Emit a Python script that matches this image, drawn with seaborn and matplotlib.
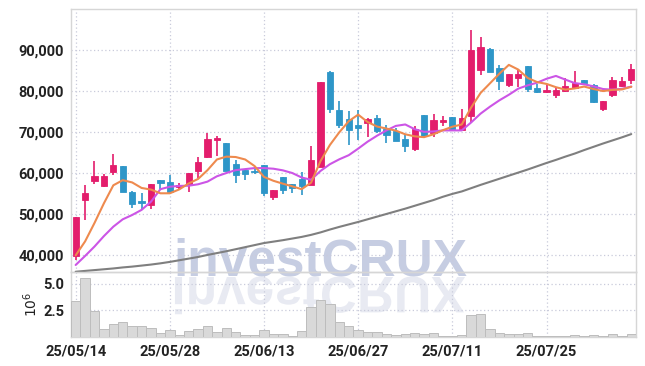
import matplotlib
matplotlib.use("Agg")
import matplotlib.pyplot as plt
import seaborn as sns
from matplotlib import font_manager
from matplotlib.font_manager import FontProperties
from matplotlib.textpath import TextPath
from matplotlib.patches import PathPatch
from matplotlib.transforms import Affine2D
from matplotlib.ticker import FuncFormatter

# trading days shown on the chart
dates = [
    "25/05/14", "25/05/15", "25/05/16", "25/05/19", "25/05/20", "25/05/21", "25/05/22", "25/05/23", "25/05/26", "25/05/27",
    "25/05/28", "25/05/29", "25/05/30", "25/06/02", "25/06/04", "25/06/05", "25/06/09", "25/06/10", "25/06/11", "25/06/12",
    "25/06/13", "25/06/16", "25/06/17", "25/06/18", "25/06/19", "25/06/20", "25/06/23", "25/06/24", "25/06/25", "25/06/26",
    "25/06/27", "25/06/30", "25/07/01", "25/07/02", "25/07/03", "25/07/04", "25/07/07", "25/07/08", "25/07/09", "25/07/10",
    "25/07/11", "25/07/14", "25/07/15", "25/07/16", "25/07/17", "25/07/18", "25/07/21", "25/07/22", "25/07/23", "25/07/24",
    "25/07/25", "25/07/28", "25/07/29", "25/07/30", "25/07/31", "25/08/01", "25/08/04", "25/08/05", "25/08/06", "25/08/07",
]

opens = [39800, 53400, 58050, 56850, 60250, 61700, 55350, 53150, 52100, 58300,
         57900, 56500, 57300, 60550, 63850, 68150, 67300, 62200, 60750, 60500,
         61950, 54050, 59000, 57300, 58550, 57150, 61550, 84550, 75300, 73100,
         71700, 72250, 73400, 70650, 70300, 68300, 65850, 74050, 69700, 72500,
         73600, 70500, 73900, 85100, 90250, 85750, 81550, 83250, 86100, 80750,
         79750, 79100, 80100, 80800, 82700, 81450, 75600, 79100, 81300, 82700]
highs = [49300, 57100, 63000, 59700, 64550, 61700, 55500, 55050, 57300, 58300,
         59500, 57650, 60100, 64000, 69700, 69000, 67300, 63150, 60750, 61400,
         62000, 55850, 59100, 57300, 60300, 66650, 82100, 84950, 77650, 75200,
         75350, 73350, 74150, 71700, 70900, 69250, 71450, 74050, 74300, 73900,
         73600, 75550, 94900, 93100, 90400, 86350, 84150, 85100, 86100, 81850,
         81450, 81050, 83250, 84950, 82700, 81850, 77550, 83500, 83500, 86500]
lows = [38800, 48500, 57250, 56500, 59500, 55450, 51400, 51000, 51150, 56000,
        55300, 55850, 55450, 58700, 63600, 64150, 60500, 57650, 58300, 59750,
        54400, 53400, 54900, 55050, 54650, 57150, 61500, 74550, 70900, 66850,
        68050, 68700, 69850, 67250, 67900, 65200, 65350, 68700, 68850, 71450,
        70250, 70500, 72250, 83900, 84700, 80250, 81050, 81050, 79750, 79600,
        79450, 78200, 79850, 80400, 81450, 77050, 75200, 78450, 81050, 81850]
closes = [49300, 55200, 59350, 59250, 61950, 55450, 52500, 52600, 57300, 57500,
          55450, 57050, 60050, 62700, 68200, 68550, 60500, 59450, 59850, 60250,
          55200, 55850, 55950, 56400, 56900, 63150, 82100, 75700, 71800, 70550,
          71050, 73100, 70300, 69350, 67900, 66650, 70650, 69100, 72950, 72950,
          70800, 73350, 90000, 90650, 84700, 82500, 84150, 84150, 80550, 79750,
          80250, 80150, 81150, 82050, 81950, 77300, 77550, 82700, 82450, 85300]

# moving averages as drawn (short / mid / long)
ma_short = [39900, 43300, 47800, 52600, 57000, 58250, 57700, 56350, 55950, 55050,
            55050, 56000, 57450, 58550, 60700, 63300, 64000, 63900, 63300, 61700,
            59050, 58100, 57400, 56750, 56050, 57650, 62900, 66850, 69950, 72650,
            74250, 72450, 71350, 70850, 70350, 69450, 68950, 68750, 69450, 70450,
            71300, 71850, 76000, 79550, 81900, 84250, 86400, 85250, 83200, 82200,
            81750, 80950, 80350, 80650, 81100, 80500, 80000, 80300, 80400, 81050]
ma_mid = [37550, 39750, 42050, 44600, 46900, 48700, 49750, 51000, 53000, 56050,
          56650, 56850, 56900, 57250, 57900, 59200, 60000, 60700, 60950, 61200,
          61200, 61050, 60650, 60000, 58900, 58350, 60500, 62150, 63350, 64350,
          65950, 67650, 69100, 70400, 71500, 71850, 70700, 70050, 70150, 70400,
          70400, 70400, 72350, 74500, 76200, 77750, 79100, 80600, 81400, 82050,
          83000, 83700, 82800, 81950, 81650, 81150, 80500, 80350, 80550, 81100]
ma_long = [35900, 36100, 36300, 36500, 36700, 36950, 37150, 37400, 37650, 37950,
           38300, 38700, 39100, 39500, 40000, 40450, 40900, 41400, 41900, 42400,
           42900, 43250, 43600, 44000, 44400, 44900, 45500, 46200, 46850, 47450,
           48050, 48700, 49350, 50000, 50650, 51300, 52000, 52700, 53400, 54200,
           54900, 55500, 56300, 57100, 57850, 58600, 59350, 60100, 60850, 61650,
           62450, 63200, 64000, 64750, 65600, 66400, 67200, 67950, 68700, 69500]

# volume in millions of shares
volume = [3.35, 5.55, 2.43, 0.77, 1.18, 1.37, 1.08, 1.08, 0.89, 0.42,
          0.70, 0.24, 0.58, 0.77, 1.08, 0.52, 0.89, 0.52, 0.24, 0.24,
          0.70, 0.33, 0.33, 0.14, 0.61, 2.78, 3.44, 3.07, 1.37, 1.08,
          0.70, 0.52, 0.52, 0.33, 0.15, 0.33, 0.42, 0.33, 0.42, 0.14,
          0.14, 0.24, 2.03, 2.12, 0.72, 0.42, 0.26, 0.26, 0.36, 0.08,
          0.08, 0.14, 0.14, 0.24, 0.08, 0.24, 0.08, 0.33, 0.14, 0.33]

up_color = "#E31D6C"
down_color = "#2E96C8"
grid_color = "#C9CBDB"
spine_color = "#D6D6D6"
text_color = "#222222"

sns.set_style("white")
installed = {f.name for f in font_manager.fontManager.ttflist}
label_font = "Liberation Sans Narrow" if "Liberation Sans Narrow" in installed else "Roboto"
plt.rcParams["font.family"] = [label_font, "DejaVu Sans"]

fig = plt.figure(figsize=(6.45, 3.66), dpi=100)
ax = fig.add_axes([0.110, 0.257, 0.876, 0.718])
axv = fig.add_axes([0.110, 0.079, 0.876, 0.178], sharex=ax)
for a in (ax, axv):
    a.set_facecolor("none")

# watermark with mirrored reflection
wm_prop = FontProperties(family=["Liberation Sans", "DejaVu Sans"], weight="bold", size=37)
wm_x, wm_y = 3.20, 0.91  # inches
fig.text(wm_x / 6.45, wm_y / 3.66, "investCRUX", fontproperties=wm_prop,
         color="#C6CDE2", ha="center", va="baseline", zorder=-2)
tp = TextPath((0, 0), "investCRUX", prop=wm_prop, size=37)
ext = tp.get_extents()
tr = (Affine2D().translate(-(ext.x0 + ext.width / 2), 0).scale(1 / 72, -1 / 72)
      .translate(wm_x, wm_y - 0.02) + fig.dpi_scale_trans)
fig.patches.append(PathPatch(tp, transform=tr, facecolor="#E8EAF2", edgecolor="none", zorder=-2))

n = len(closes)
idx = list(range(n))

# candles
for i in idx:
    o, h, l, c = opens[i], highs[i], lows[i], closes[i]
    col = up_color if c >= o else down_color
    ax.vlines(i, l, h, color=col, lw=1.2, zorder=3)
    ax.bar(i, max(abs(c - o), 150), bottom=min(o, c), width=0.66,
           color=col, edgecolor=col, lw=0.6, zorder=4)

sns.lineplot(x=idx, y=ma_long, ax=ax, color="#7F7F7F", lw=1.5, zorder=5)
sns.lineplot(x=idx, y=ma_mid, ax=ax, color="#CC55E6", lw=1.5, zorder=5)
sns.lineplot(x=idx, y=ma_short, ax=ax, color="#EE8A4E", lw=1.5, zorder=6)

ax.set_ylim(35850, 100000)
ax.set_yticks(range(40000, 100000, 10000))
ax.yaxis.set_major_formatter(FuncFormatter(lambda v, p: f"{int(v):,}"))

# volume
sns.barplot(x=idx, y=volume, ax=axv, native_scale=True, width=1.0,
            color="#D9D9D9", edgecolor="#BDBDBD", linewidth=0.7, saturation=1, zorder=3)
axv.set_ylim(0, 6.1)
axv.set_yticks([2.5, 5.0])
axv.yaxis.set_major_formatter(FuncFormatter(lambda v, p: f"{v:.1f}"))
axv.set_ylabel("10$^6$", fontsize=10, color=text_color, family="DejaVu Sans", labelpad=2)

tick_pos = idx[::10]
axv.set_xticks(tick_pos)
axv.set_xticklabels([dates[i] for i in tick_pos])
axv.set_xlim(-0.5, n - 0.5)

for a in (ax, axv):
    a.grid(True, axis="both", color=grid_color, linestyle=(0, (1, 2)), lw=0.9, zorder=0)
    a.tick_params(length=0, labelsize=10.5, labelcolor=text_color, pad=5)
    for lab in a.get_yticklabels() + a.get_xticklabels():
        lab.set_fontweight("bold")
    for s in a.spines.values():
        s.set_color(spine_color)
        s.set_linewidth(1.0)
ax.tick_params(labelbottom=False)
axv.set_xlabel("")

fig.savefig("out.png", dpi=100)
